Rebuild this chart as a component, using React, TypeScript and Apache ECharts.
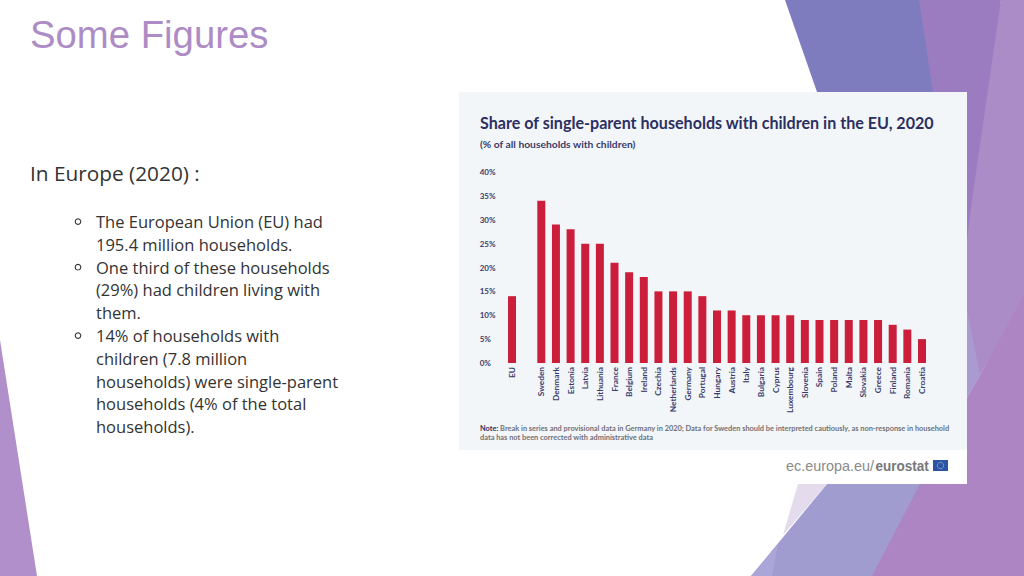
import React, { useEffect, useRef } from "react";
import * as echarts from "echarts";

const categories = ["EU", "", "Sweden", "Denmark", "Estonia", "Latvia", "Lithuania", "France", "Belgium", "Ireland", "Czechia", "Netherlands", "Germany", "Portugal", "Hungary", "Austria", "Italy", "Bulgaria", "Cyprus", "Luxembourg", "Slovenia", "Spain", "Poland", "Malta", "Slovakia", "Greece", "Finland", "Romania", "Croatia"];
const shares = [14, null, 34, 29, 28, 25, 25, 21, 19, 18, 15, 15, 15, 14, 11, 11, 10, 10, 10, 10, 9, 9, 9, 9, 9, 9, 8, 7, 5];

const slideTitle = "Some Figures";
const heading = "In Europe (2020) :";
const bulletGroups = [
  ["The European Union (EU) had", "195.4 million households."],
  ["One third of these households", "(29%) had children living with", "them."],
  ["14% of households with", "children (7.8 million", "households) were single-parent", "households (4% of the total", "households)."],
];
const chartTitle = "Share of single-parent households with children in the EU, 2020";
const chartSubtitle = "(% of all households with children)";
const noteLines = [
  "Break in series and provisional data in Germany in 2020; Data for Sweden should be interpreted cautiously, as non-response in household",
  "data has not been corrected with administrative data",
];

const poly = (points: number[][], fill: string) => ({ type: "polygon", shape: { points }, style: { fill }, silent: true });
const txt = (x: number, y: number, text: string, font: string, size: number, fill: string, weight: any = "normal") => ({
  type: "text", x, y, silent: true,
  style: { text, fontFamily: font, fontSize: size, fill, fontWeight: weight, textVerticalAlign: "middle" },
});

function buildBullets() {
  const out: any[] = [];
  let y = 221.4;
  for (const group of bulletGroups) {
    out.push({ type: "circle", shape: { cx: 78, cy: y + 0.2, r: 2.8 }, style: { fill: "none", stroke: "#333333", lineWidth: 1.1 }, silent: true });
    for (const line of group) {
      out.push(txt(96, y, line, "Open Sans", 16.5, "#333333"));
      y += 22.8;
    }
  }
  return out;
}

export default function App() {
  const ref = useRef<HTMLDivElement>(null);
  useEffect(() => {
    const chart = echarts.init(ref.current!, undefined, { renderer: "svg" });
    chart.setOption({
      animation: false,
      backgroundColor: "#ffffff",
      grid: { left: 504.7, top: 172, width: 424.6, height: 191, containLabel: false },
      title: {
        text: chartTitle, left: 480, top: 114,
        textStyle: { fontFamily: "Lato", fontWeight: "bold", fontSize: 16.1, color: "#2c2f63" },
        subtext: chartSubtitle, itemGap: 9,
        subtextStyle: { fontFamily: "Lato", fontWeight: "bold", fontSize: 10.3, color: "#3a3c6b" },
        padding: 0,
      },
      xAxis: {
        type: "category", data: categories,
        axisLine: { show: false }, axisTick: { show: false },
        axisLabel: { interval: 0, rotate: 90, margin: 4, fontFamily: "Lato", fontWeight: "bold", fontSize: 8.3, color: "#3a3c6b" },
      },
      yAxis: {
        type: "value", min: 0, max: 40, interval: 5,
        axisLine: { show: false }, axisTick: { show: false }, splitLine: { show: false },
        axisLabel: { formatter: "{value}%", align: "left", margin: 25, fontFamily: "Lato", fontWeight: "bold", fontSize: 8, color: "#3a3c6b" },
      },
      series: [{ type: "bar", data: shares, barWidth: 8, itemStyle: { color: "#cb1e3b" }, silent: true }],
      graphic: [
        { type: "group", silent: true, children: [
          poly([[1024, 290], [1024, 576], [860, 576], [910, 484], [967, 398], [980, 375]], "#ad85c2"),
          poly([[1001, 0], [1024, 0], [1024, 295], [980, 375], [967, 398], [960, 180]], "#ab8cc6"),
          poly([[915, 0], [1001, 0], [972, 200], [967, 240], [925, 92]], "#9b7cc0"),
          poly([[785, 0], [919, 0], [933, 92], [817, 92]], "#7f7bbf"),
          poly([[967, 310], [980, 375], [967, 398]], "#a99bd0"),
          poly([[827, 484], [920, 484], [872, 576], [751, 576]], "#a09ccf"),
          poly([[751, 576], [772, 576], [778, 545]], "#aaa6d8"),
          poly([[798, 484], [827, 484], [783, 535]], "#e4dbec"),
          poly([[0, 340], [37, 576], [0, 576]], "#b08fca"),
          { type: "rect", shape: { x: 459, y: 92, width: 508, height: 392 }, style: { fill: "#ffffff" } },
          { type: "rect", shape: { x: 459, y: 92, width: 508, height: 358 }, style: { fill: "#f3f6f8" } },
        ] },
        txt(30, 34.5, slideTitle, "Liberation Sans", 38.3, "#ad8cc6"),
        txt(30, 173, heading, "Open Sans", 20.8, "#333333"),
        ...buildBullets(),
        {
          type: "text", x: 480, y: 428, silent: true,
          style: {
            text: "{n|Note: }{g|" + noteLines[0] + "}", textVerticalAlign: "middle", fontFamily: "Lato",
            rich: {
              n: { fontFamily: "Lato", fontWeight: "bold", fontSize: 7.4, fill: "#2c2f63" },
              g: { fontFamily: "Lato", fontWeight: "bold", fontSize: 7.4, fill: "#6f7078" },
            },
          },
        },
        txt(480, 437, noteLines[1], "Lato", 7.4, "#6f7078", "bold"),
        txt(786, 466, "ec.europa.eu/", "Liberation Sans", 14.4, "#8a8a8a"),
        { ...txt(875.5, 466, "eurostat", "Liberation Sans", 15, "#77777a", "bold"), scaleX: 0.9 },
        { type: "rect", shape: { x: 933, y: 460, width: 15, height: 11 }, style: { fill: "#2b55a3" }, silent: true },
        { type: "circle", shape: { cx: 940.5, cy: 465.5, r: 3.2 }, style: { fill: "none", stroke: "#8ea2cf", lineWidth: 0.8 }, silent: true },
      ],
    });
    return () => chart.dispose();
  }, []);
  return <div ref={ref} style={{ position: "absolute", left: 0, top: 0, width: 1024, height: 576 }} />;
}
